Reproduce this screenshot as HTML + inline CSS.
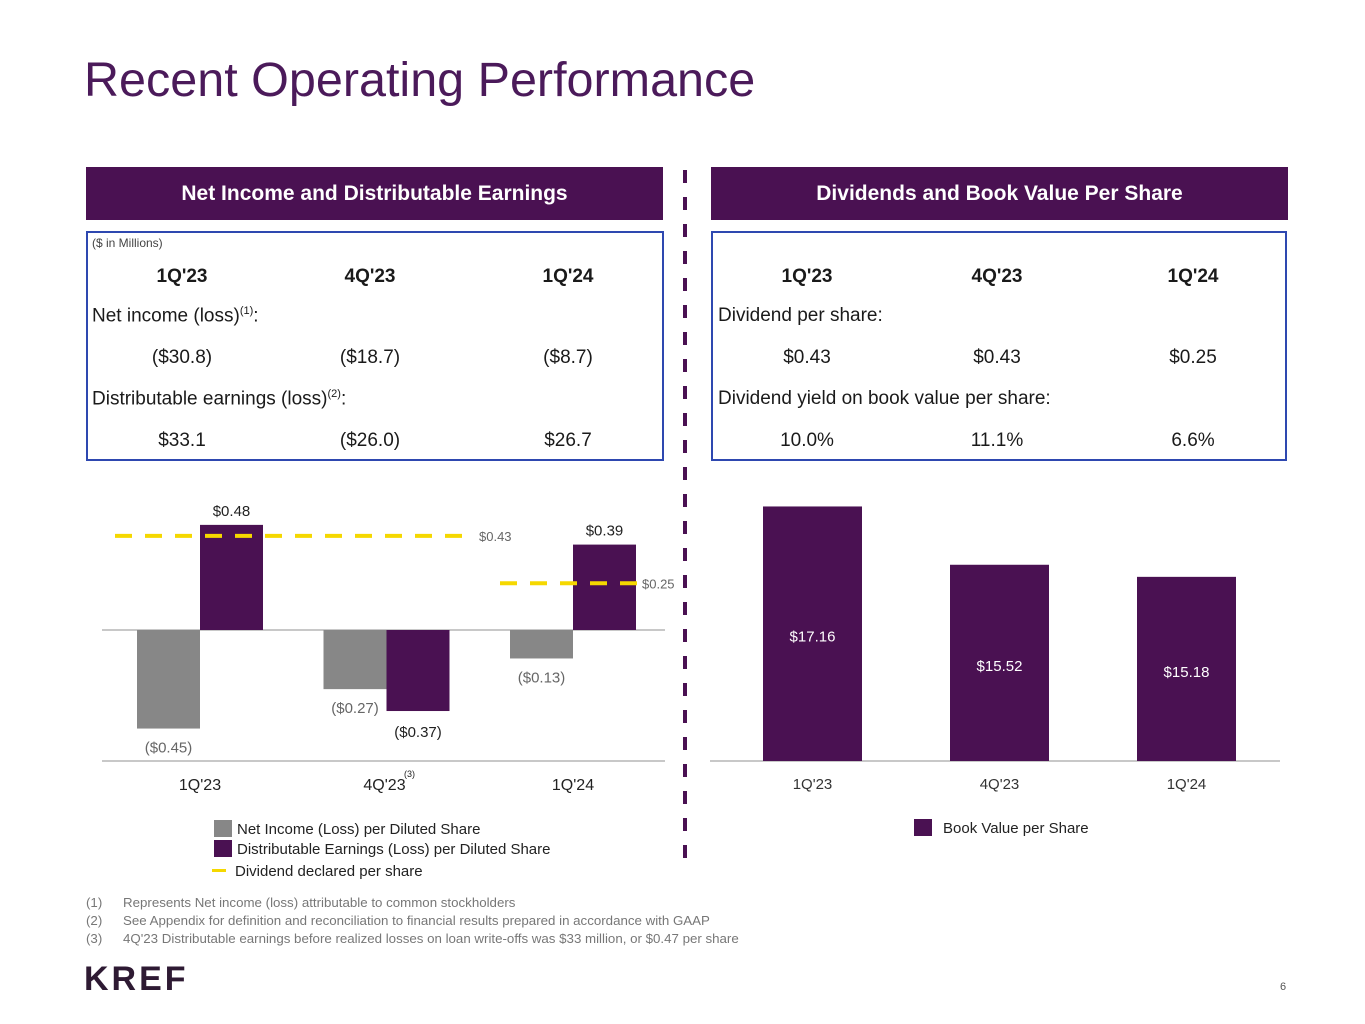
<!DOCTYPE html>
<html><head><meta charset="utf-8"><style>
body{margin:0;width:1365px;height:1024px;background:#fff;font-family:"Liberation Sans",sans-serif;position:relative;overflow:hidden}
.a{position:absolute;white-space:nowrap}
.hdr{position:absolute;top:167px;height:53px;background:#4a1152;color:#fff;font-weight:bold;font-size:21px;text-align:center;line-height:53px}
.box{position:absolute;top:231px;height:230px;border:2px solid #2e48b0;box-sizing:border-box}
.t{position:absolute;font-size:19px;color:#1a1a1a;white-space:nowrap}
.c{transform:translateX(-50%)}
.b{font-weight:bold}
sup{font-size:11px}
</style></head><body>
<div class="a" style="left:84px;top:52px;font-size:48.5px;color:#4b1a5a">Recent Operating Performance</div>

<div class="hdr" style="left:86px;width:577px">Net Income and Distributable Earnings</div>
<div class="hdr" style="left:711px;width:577px">Dividends and Book Value Per Share</div>

<div class="box" style="left:86px;width:578px">
 <div class="t" style="left:4px;top:3px;font-size:12px;color:#444">($ in Millions)</div>
 <div class="t b c" style="left:94px;top:33px">1Q'23</div>
 <div class="t b c" style="left:282px;top:33px">4Q'23</div>
 <div class="t b c" style="left:480px;top:33px">1Q'24</div>
 <div class="t" style="left:4px;top:72px">Net income (loss)<sup>(1)</sup>:</div>
 <div class="t c" style="left:94px;top:114px">($30.8)</div>
 <div class="t c" style="left:282px;top:114px">($18.7)</div>
 <div class="t c" style="left:480px;top:114px">($8.7)</div>
 <div class="t" style="left:4px;top:155px">Distributable earnings (loss)<sup>(2)</sup>:</div>
 <div class="t c" style="left:94px;top:197px">$33.1</div>
 <div class="t c" style="left:282px;top:197px">($26.0)</div>
 <div class="t c" style="left:480px;top:197px">$26.7</div>
</div>
<div class="box" style="left:711px;width:576px">
 <div class="t b c" style="left:94px;top:33px">1Q'23</div>
 <div class="t b c" style="left:284px;top:33px">4Q'23</div>
 <div class="t b c" style="left:480px;top:33px">1Q'24</div>
 <div class="t" style="left:5px;top:72px">Dividend per share:</div>
 <div class="t c" style="left:94px;top:114px">$0.43</div>
 <div class="t c" style="left:284px;top:114px">$0.43</div>
 <div class="t c" style="left:480px;top:114px">$0.25</div>
 <div class="t" style="left:5px;top:155px">Dividend yield on book value per share:</div>
 <div class="t c" style="left:94px;top:197px">10.0%</div>
 <div class="t c" style="left:284px;top:197px">11.1%</div>
 <div class="t c" style="left:480px;top:197px">6.6%</div>
</div>

<svg class="a" style="left:0;top:0" width="1365" height="1024">
 <line x1="685" y1="170" x2="685" y2="866" stroke="#4a1152" stroke-width="4" stroke-dasharray="13,14"/>
 <g id="left"></g><g id="right"></g>
 <text x="1280" y="990" font-size="11" fill="#555">6</text>
</svg>

<div class="a" style="left:214px;top:820px;font-size:15px;color:#222;line-height:20px">
 <div><span style="display:inline-block;width:18px;height:17px;background:#878787;vertical-align:-3px;margin-right:5px"></span>Net Income (Loss) per Diluted Share</div>
 <div><span style="display:inline-block;width:18px;height:17px;background:#4a1152;vertical-align:-3px;margin-right:5px"></span>Distributable Earnings (Loss) per Diluted Share</div>
 <div style="margin-top:2px"><span style="display:inline-block;width:14px;height:3px;background:#f5d800;vertical-align:4px;margin-right:9px;margin-left:-2px"></span>Dividend declared per share</div>
</div>
<div class="a" style="left:914px;top:819px;font-size:15px;color:#222"><span style="display:inline-block;width:18px;height:17px;background:#4a1152;vertical-align:-3px;margin-right:11px"></span>Book Value per Share</div>

<div class="a" style="left:86px;top:894px;font-size:13.3px;color:#777;line-height:18px">
 <div><span style="display:inline-block;width:37px">(1)</span>Represents Net income (loss) attributable to common stockholders</div>
 <div><span style="display:inline-block;width:37px">(2)</span>See Appendix for definition and reconciliation to financial results prepared in accordance with GAAP</div>
 <div><span style="display:inline-block;width:37px">(3)</span>4Q'23 Distributable earnings before realized losses on loan write-offs was $33 million, or $0.47 per share</div>
</div>
<div class="a" style="left:84px;top:960px;font-size:34px;font-weight:bold;color:#2e1a33;letter-spacing:3px">KREF</div>

<script>
const categories=["1Q'23","4Q'23","1Q'24"];
const netIncome=[-0.45,-0.27,-0.13];
const distributable=[0.48,-0.37,0.39];
const dividends=[0.43,0.43,0.25];
const netLabels=["($0.45)","($0.27)","($0.13)"];
const distLabels=["$0.48","($0.37)","$0.39"];
const bookValue=[17.16,15.52,15.18];
const bookLabels=["$17.16","$15.52","$15.18"];
const NS="http://www.w3.org/2000/svg";
function mk(p,tag,at,txt){const e=document.createElementNS(NS,tag);for(const k in at)e.setAttribute(k,at[k]);if(txt!=null)e.textContent=txt;p.appendChild(e);return e;}
const L=document.getElementById('left');
const y0=630,k=219;
const yL=v=>y0-v*k;
const cx=i=>200+i*186.5;
const bw=63;
mk(L,'line',{x1:102,y1:y0,x2:665,y2:y0,stroke:'#c8c8c8','stroke-width':2});
mk(L,'line',{x1:102,y1:761,x2:665,y2:761,stroke:'#c8c8c8','stroke-width':2});
categories.forEach((c,i)=>{
 let v=netIncome[i];
 let r=mk(L,'rect',{x:cx(i)-bw,y:Math.min(yL(v),y0),width:bw,height:Math.abs(yL(v)-y0),fill:'#878787'});
 
 
 mk(L,'text',{x:cx(i)-bw/2,y:yL(v)+(v<0?24:-8),'font-size':15,fill:'#666','text-anchor':'middle'},netLabels[i]);
 v=distributable[i];
 r=mk(L,'rect',{x:cx(i),y:Math.min(yL(v),y0),width:bw,height:Math.abs(yL(v)-y0),fill:'#4a1152'});
 
 
 mk(L,'text',{x:cx(i)+bw/2,y:yL(v)+(v<0?26:-9),'font-size':15,fill:'#222','text-anchor':'middle'},distLabels[i]);
 mk(L,'text',{x:cx(i)+(i==1?-2:0),y:790,'font-size':16,fill:'#222','text-anchor':'middle'},c);
 if(i==1)mk(L,'text',{x:cx(i)+23,y:777,'font-size':9,fill:'#222','text-anchor':'middle'},'(3)');
});
let d=mk(L,'line',{x1:115,y1:yL(dividends[0]),x2:475,y2:yL(dividends[0]),stroke:'#f5d800','stroke-width':4,'stroke-dasharray':'17,13'});


mk(L,'text',{x:479,y:yL(dividends[0])+5,'font-size':13,fill:'#666'},'$'+dividends[0].toFixed(2));
d=mk(L,'line',{x1:500,y1:yL(dividends[2])+8,x2:637,y2:yL(dividends[2])+8,stroke:'#f5d800','stroke-width':4,'stroke-dasharray':'17,13'});


mk(L,'text',{x:642,y:yL(dividends[2])+13,'font-size':13,fill:'#666'},'$'+dividends[2].toFixed(2));
const R=document.getElementById('right');
const base=761,min=10,kr=35.55;
const yR=v=>base-(v-min)*kr;
mk(R,'line',{x1:710,y1:base,x2:1280,y2:base,stroke:'#c8c8c8','stroke-width':2});
categories.forEach((c,i)=>{
 const x=763+i*187;
 const r=mk(R,'rect',{x:x,y:yR(bookValue[i]),width:99,height:base-yR(bookValue[i]),fill:'#4a1152'});
 
 
 mk(R,'text',{x:x+49.5,y:(yR(bookValue[i])+base)/2+8,'font-size':15,fill:'#fff','text-anchor':'middle'},bookLabels[i]);
 mk(R,'text',{x:x+49.5,y:789,'font-size':15,fill:'#333','text-anchor':'middle'},c);
});
</script>
</body></html>
